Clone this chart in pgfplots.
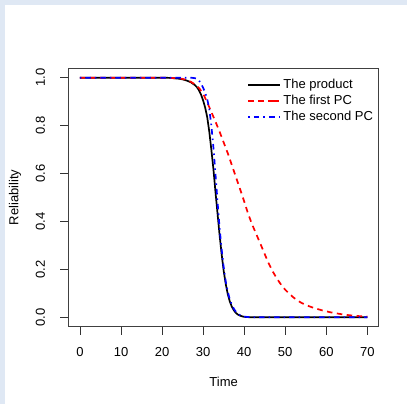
\documentclass[border=0pt]{standalone}
\usepackage{pgfplots}
\pgfplotsset{compat=1.18}
\usepackage{fontspec}
\setmainfont{Liberation Sans}
\definecolor{bgblue}{HTML}{DFE8F4}
\begin{document}
\fontsize{13}{15}\selectfont
\begin{tikzpicture}[x=1pt,y=1pt]
\path[use as bounding box, fill=bgblue] (0,0) rectangle (407,404);
\fill[white] (5,0) rectangle (407,399);
\begin{axis}[
  at={(68.5pt,77.1pt)}, anchor=south west,
  scale only axis, width=310.3pt, height=258.8pt,
  xmin=-2.8, xmax=72.8, ymin=-0.04, ymax=1.04,
  xtick={0,10,20,30,40,50,60,70},
  ytick={0,0.2,0.4,0.6,0.8,1.0},
  tick align=outside, major tick length=8pt,
  xtick pos=bottom, ytick pos=left,
  tick style={black!80, line width=0.7pt},
  axis line style={black!75, line width=0.9pt},
  /pgf/number format/assume math mode=true,
  xticklabel style={yshift=-8pt},
  yticklabel style={xshift=-11pt, rotate=90, anchor=south, /pgf/number format/fixed, /pgf/number format/precision=1, /pgf/number format/fixed zerofill},
  xlabel={Time}, ylabel={Reliability},
  xlabel style={at={(axis description cs:0.5,-0.213)}, anchor=center},
  ylabel style={at={(axis description cs:-0.172,0.5)}, anchor=center},
  legend cell align=left,
  legend image code/.code={\draw[#1] (0pt,0pt) -- (25pt,0pt); \path (25pt,0pt) -- (32pt,0pt);},
  legend style={at={(axis description cs:0.567,0.974)}, anchor=north west,
    draw=none, fill=none, row sep=0pt,
    nodes={inner sep=2pt, text height=9pt, text depth=3pt}},
]
\addplot[black, line width=1.7pt] coordinates {
(0,1) (10,1) (20,1) (22,0.999) (24,0.996) (25,0.993) (26,0.988) (27,0.981) (28,0.969) (28.5,0.960) (29,0.947) (29.5,0.929) (30,0.905) (30.5,0.875) (31,0.835) (31.5,0.775) (32,0.700) (32.5,0.620) (33,0.525) (33.5,0.435) (34,0.345) (34.5,0.265) (35,0.195) (35.5,0.140) (36,0.097) (36.5,0.066) (37,0.044) (37.5,0.029) (38,0.018) (38.5,0.011) (39,0.007) (39.5,0.004) (40,0.002) (41,0.0007) (42,0.0002) (43,0) (70,0)
};
\addlegendentry{The product}
\addplot[red, line width=1.7pt, dash pattern=on 5.5pt off 4.5pt] coordinates {
(0,1) (20,1) (22,0.999) (24,0.997) (25,0.995) (26,0.99) (27,0.983) (28,0.972) (29,0.957) (30,0.933) (31,0.897) (32,0.857) (33,0.817) (34,0.775) (35,0.73) (36,0.685) (37,0.635) (38,0.585) (39,0.535) (40,0.484) (41,0.43) (42,0.385) (43,0.345) (44,0.305) (45,0.264) (46,0.224) (47,0.19) (48,0.161) (49,0.136) (50,0.115) (51,0.098) (52,0.083) (53,0.07) (54,0.06) (55,0.052) (56,0.045) (57,0.039) (58,0.034) (59,0.029) (60,0.025) (61,0.021) (62,0.018) (63,0.015) (64,0.012) (65,0.01) (66,0.008) (67,0.0065) (68,0.005) (69,0.004) (70,0.003)
};
\addlegendentry{The first PC}
\addplot[blue, line width=1.7pt, dash pattern=on 1.5pt off 4pt on 5.5pt off 4pt] coordinates {
(0,1) (20,1) (27,1) (28,0.998) (28.5,0.995) (29,0.988) (29.5,0.975) (30,0.958) (30.5,0.938) (31,0.91) (31.5,0.87) (32,0.80) (32.5,0.71) (33,0.60) (33.5,0.485) (34,0.375) (34.5,0.285) (35,0.21) (35.5,0.15) (36,0.107) (36.5,0.075) (37,0.052) (37.5,0.035) (38,0.023) (38.5,0.015) (39,0.009) (39.5,0.006) (40,0.003) (41,0.001) (42,0.0003) (43,0) (70,0)
};
\addlegendentry{The second PC}
\end{axis}
\end{tikzpicture}
\end{document}
